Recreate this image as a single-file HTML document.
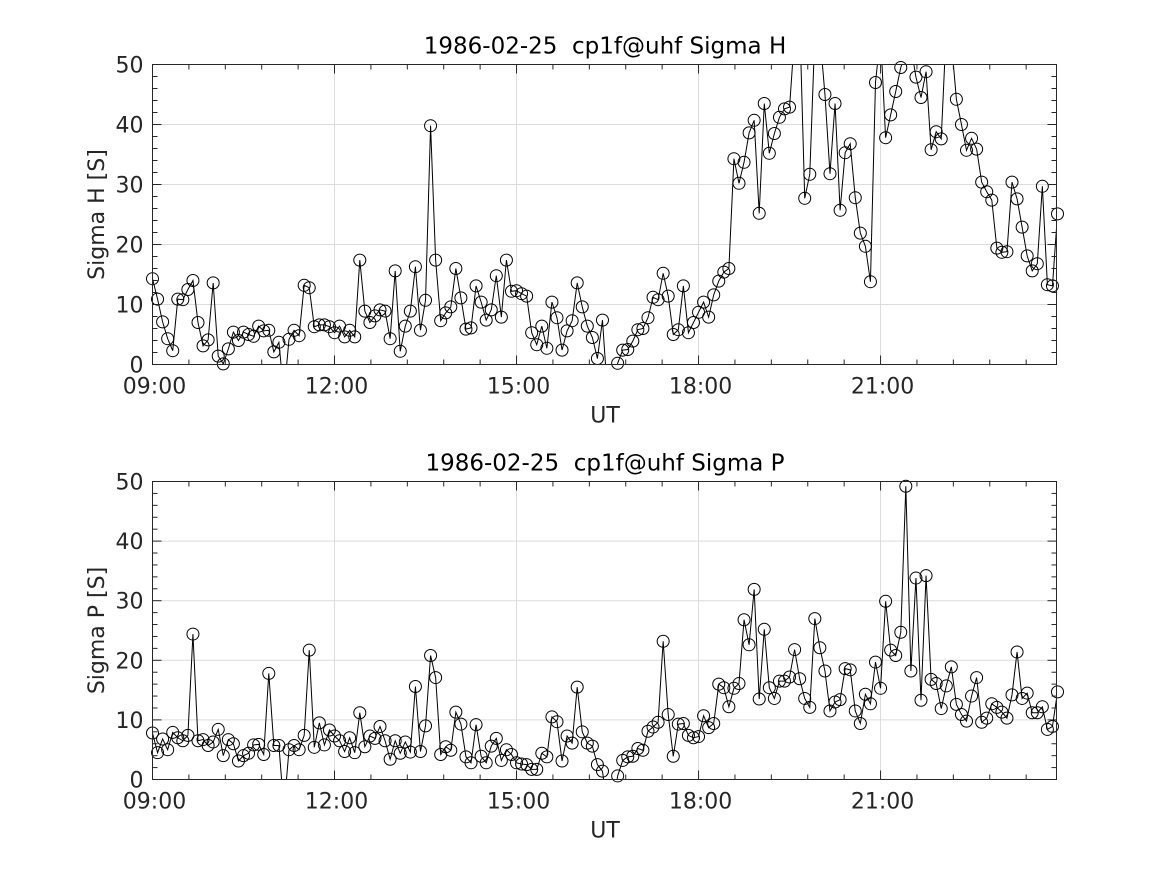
<!DOCTYPE html>
<html><head><meta charset="utf-8"><style>
html,body{margin:0;padding:0;background:#fff;}
svg{display:block;font-family:"DejaVu Sans","Liberation Sans",sans-serif;}
text{white-space:pre;}
</style></head><body>
<svg id="chart" width="1167" height="875" viewBox="0 0 1167 875" xmlns="http://www.w3.org/2000/svg"></svg>
<script>
const xTickLabels = ["09:00","12:00","15:00","18:00","21:00"];
const xTickHours = [9,12,15,18,21];
const yTickValues = [0,10,20,30,40,50];
const startHour = 9;
const stepMinutes = 5;
const sigmaH = [14.3,10.9,7.1,4.3,2.3,10.9,10.8,12.5,14,7,3.1,4.1,13.6,1.4,0.1,2.6,5.4,4,5.4,5,4.7,6.4,5.6,5.7,2.1,3.7,-5,4.2,5.7,4.8,13.2,12.8,6.3,6.6,6.6,6.3,5.3,6.4,4.6,5.7,4.6,17.4,8.9,7,8.1,9.1,8.9,4.3,15.6,2.2,6.4,8.9,16.3,5.7,10.7,39.8,17.4,7.3,8.6,9.6,16,11.1,5.9,6.1,13.1,10.4,7.4,9.1,14.8,7.9,17.4,12.2,12.3,11.8,11.4,5.3,3.3,6.4,2.7,10.4,7.8,2.4,5.6,7.3,13.6,9.6,6.4,4.5,1,7.4,-5,-5,0.2,2.4,2.5,3.9,5.8,6,7.8,11.2,10.8,15.2,11.4,5,5.8,13.1,5.3,7,8.7,10.4,7.9,11.6,13.9,15.4,16,34.3,30.2,33.7,38.6,40.7,25.2,43.5,35.2,38.5,41.2,42.6,42.9,55,58,27.7,31.7,55,55,45,31.8,43.5,25.7,35.3,36.8,27.8,21.9,19.7,13.8,47,55,37.8,41.6,45.5,49.5,52,53,47.9,44.5,48.8,35.8,38.8,37.6,56,54,44.2,40,35.7,37.7,35.9,30.4,28.8,27.4,19.4,18.7,18.8,30.4,27.6,22.9,18.1,15.6,16.8,29.7,13.3,13.1,25.1];
const sigmaP = [7.8,4.5,6.8,5,7.9,7,6.5,7.4,24.4,6.5,6.7,5.7,6.3,8.4,4,6.7,6,3.1,4,4.4,5.8,5.9,4.2,17.8,5.7,5.7,-5,5,5.7,5,7.4,21.7,5.4,9.5,5.8,8.3,7.3,6.5,4.7,7,4.5,11.2,5.5,7.3,6.9,8.9,6.5,3.4,6.5,4.4,6.3,4.6,15.6,4.7,9,20.8,17.1,4.2,5.5,4.9,11.3,9.3,3.8,2.8,9.2,3.9,2.8,5.6,6.9,3.2,5,4.2,2.8,2.6,2.5,1.7,1.7,4.4,3.8,10.5,9.7,3.1,7.3,6.1,15.5,8,6.1,5.6,2.5,1.4,-5,-5,0.6,3.2,3.8,3.9,5.2,4.9,8.1,8.8,9.6,23.2,10.9,3.9,9.3,9.4,7.4,7,7.2,10.7,8.7,9.4,16,15.4,12.2,15.3,16.1,26.8,22.6,31.9,13.5,25.2,15.4,13.6,16.5,16.5,17.2,21.8,16.9,13.6,12.1,27,22.1,18.2,11.5,13,13.4,18.6,18.4,11.5,9.4,14.3,12.7,19.7,15.3,29.9,21.7,20.8,24.7,49.2,18.2,33.8,13.3,34.2,16.8,16.1,11.9,15.7,18.9,12.6,10.9,9.8,14,17.1,9.6,10.3,12.7,12.1,11.3,10.3,14.2,21.4,13.6,14.5,11.2,11.2,12.2,8.4,8.9,14.7];

const NS="http://www.w3.org/2000/svg";
const svg=document.getElementById('chart');
function mk(tag,attrs,parent){const e=document.createElementNS(NS,tag);for(const k in attrs)e.setAttribute(k,attrs[k]);(parent||svg).appendChild(e);return e;}

function panel(opt){
  const L=152.5,R=1056.5,T=opt.top,B=opt.bottom;
  const xMin=9,xMax=23.9,yMin=0,yMax=50;
  const xs=h=>L+(h-xMin)/(xMax-xMin)*(R-L);
  const ys=v=>B-(v-yMin)/(yMax-yMin)*(B-T);
  const g=mk('g',{});
  
  
  const cid='clip'+opt.name;
  const cp=mk('clipPath',{id:cid},g);mk('rect',{x:L,y:T,width:R-L,height:B-T},cp);
  xTickHours.forEach(h=>{const l=mk('line',{x1:xs(h),x2:xs(h),y1:T,y2:B,stroke:'#dcdcdc','stroke-width':1},g);
    });
  yTickValues.forEach(v=>{const l=mk('line',{x1:L,x2:R,y1:ys(v),y2:ys(v),stroke:'#dcdcdc','stroke-width':1},g);
    });
  const vals=opt.data;
  let d='';
  vals.forEach((v,i)=>{const h=startHour+i*stepMinutes/60;d+=(i?'L':'M')+xs(h).toFixed(2)+' '+ys(v).toFixed(2);});
  const sg=mk('g',{'clip-path':'url(#'+cid+')'},g);
  const path=mk('path',{d:d,fill:'none',stroke:'#000','stroke-width':1},sg);
  
  
  vals.forEach((v,i)=>{if(v<yMin||v>yMax)return;const h=startHour+i*stepMinutes/60;
    const c=mk('circle',{cx:xs(h),cy:ys(v),r:6,fill:'none',stroke:'#000','stroke-width':1},g);
    
    });
  const box=mk('rect',{x:L,y:T,width:R-L,height:B-T,fill:'none',stroke:'#262626','stroke-width':1},g);
  
  for(let k=0;k<=25;k++){const h=9+k*0.6;if(h>xMax)break;const len=(k%5===0)?9:5;const x=xs(h);
    mk('line',{x1:x,x2:x,y1:B,y2:B-len,stroke:'#262626'},g);mk('line',{x1:x,x2:x,y1:T,y2:T+len,stroke:'#262626'},g);}
  for(let v=0;v<=50;v+=2){const len=(v%10===0)?9:5;const y=ys(v);
    mk('line',{x1:L,x2:L+len,y1:y,y2:y,stroke:'#262626'},g);mk('line',{x1:R,x2:R-len,y1:y,y2:y,stroke:'#262626'},g);}
  xTickLabels.forEach((s,i)=>{const t=mk('text',{x:xs(xTickHours[i])+2,y:B+29,'text-anchor':'middle','font-size':22,fill:'#262626'},g);t.textContent=s;
    });
  yTickValues.forEach(v=>{const t=mk('text',{x:L-9,y:ys(v)+8,'text-anchor':'end','font-size':22,fill:'#262626'},g);t.textContent=String(v);
    });
  const ti=mk('text',{x:605,y:T-11,'text-anchor':'middle','font-size':23,fill:'#000'},g);ti.textContent=opt.title;
  
  const xl=mk('text',{x:605,y:B+58,'text-anchor':'middle','font-size':22,fill:'#262626'},g);xl.textContent='UT';
  
  const yl=mk('text',{x:0,y:0,'text-anchor':'middle','font-size':22,fill:'#262626',transform:'translate(104,'+((T+B)/2)+') rotate(-90)'},g);yl.textContent=opt.ylabel;
  
}
panel({name:'sigma-h-panel',top:64.5,bottom:364.5,data:sigmaH,title:'1986-02-25  cp1f@uhf Sigma H',ylabel:'Sigma H [S]'});
panel({name:'sigma-p-panel',top:481.5,bottom:779.5,data:sigmaP,title:'1986-02-25  cp1f@uhf Sigma P',ylabel:'Sigma P [S]'});
</script>
</body></html>
